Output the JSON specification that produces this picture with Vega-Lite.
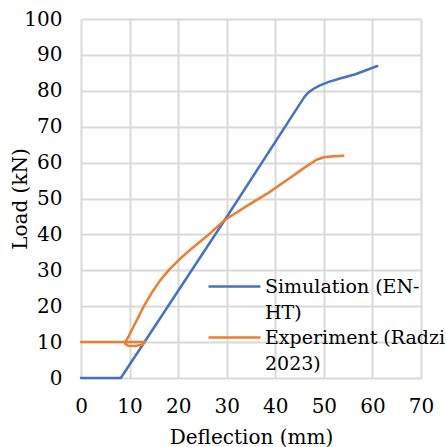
{
  "$schema": "https://vega.github.io/schema/vega-lite/v6.json",
  "width": 340,
  "height": 359,
  "autosize": {"type": "none"},
  "padding": {"left": 81, "top": 19, "right": 25, "bottom": 69},
  "background": "white",
  "config": {
    "view": {"stroke": null},
    "font": "DejaVu Serif",
    "style": {"guide-label": {"lineHeight": 26}}
  },
  "datasets": {
    "curves": [
      {"series": "Simulation (EN-HT)", "step": 0, "deflection": 0, "load": 0},
      {"series": "Simulation (EN-HT)", "step": 1, "deflection": 8.2, "load": 0},
      {"series": "Simulation (EN-HT)", "step": 2, "deflection": 29.6, "load": 44},
      {"series": "Simulation (EN-HT)", "step": 3, "deflection": 46.0, "load": 78.3},
      {"series": "Simulation (EN-HT)", "step": 4, "deflection": 46.8, "load": 79.5},
      {"series": "Simulation (EN-HT)", "step": 5, "deflection": 47.8, "load": 80.5},
      {"series": "Simulation (EN-HT)", "step": 6, "deflection": 49.2, "load": 81.5},
      {"series": "Simulation (EN-HT)", "step": 7, "deflection": 51, "load": 82.5},
      {"series": "Simulation (EN-HT)", "step": 8, "deflection": 53.5, "load": 83.5},
      {"series": "Simulation (EN-HT)", "step": 9, "deflection": 56.5, "load": 84.6},
      {"series": "Simulation (EN-HT)", "step": 10, "deflection": 61, "load": 86.9},
      {"series": "Experiment (Radzi 2023)", "step": 0, "deflection": 0, "load": 10},
      {"series": "Experiment (Radzi 2023)", "step": 1, "deflection": 13.2, "load": 10},
      {"series": "Experiment (Radzi 2023)", "step": 2, "deflection": 12.6, "load": 9.3},
      {"series": "Experiment (Radzi 2023)", "step": 3, "deflection": 11.2, "load": 8.9},
      {"series": "Experiment (Radzi 2023)", "step": 4, "deflection": 9.7, "load": 9.0},
      {"series": "Experiment (Radzi 2023)", "step": 5, "deflection": 9.1, "load": 9.5},
      {"series": "Experiment (Radzi 2023)", "step": 6, "deflection": 9.3, "load": 10.4},
      {"series": "Experiment (Radzi 2023)", "step": 7, "deflection": 9.8, "load": 11.6},
      {"series": "Experiment (Radzi 2023)", "step": 8, "deflection": 10.6, "load": 13.8},
      {"series": "Experiment (Radzi 2023)", "step": 9, "deflection": 11.6, "load": 16.4},
      {"series": "Experiment (Radzi 2023)", "step": 10, "deflection": 12.9, "load": 19.9},
      {"series": "Experiment (Radzi 2023)", "step": 11, "deflection": 14.5, "load": 23.6},
      {"series": "Experiment (Radzi 2023)", "step": 12, "deflection": 16.3, "load": 27.2},
      {"series": "Experiment (Radzi 2023)", "step": 13, "deflection": 18.3, "load": 30.4},
      {"series": "Experiment (Radzi 2023)", "step": 14, "deflection": 20.4, "load": 33.2},
      {"series": "Experiment (Radzi 2023)", "step": 15, "deflection": 23, "load": 36.3},
      {"series": "Experiment (Radzi 2023)", "step": 16, "deflection": 26, "load": 39.6},
      {"series": "Experiment (Radzi 2023)", "step": 17, "deflection": 29.6, "load": 44},
      {"series": "Experiment (Radzi 2023)", "step": 18, "deflection": 34, "load": 47.8},
      {"series": "Experiment (Radzi 2023)", "step": 19, "deflection": 38.5, "load": 51.5},
      {"series": "Experiment (Radzi 2023)", "step": 20, "deflection": 43, "load": 55.7},
      {"series": "Experiment (Radzi 2023)", "step": 21, "deflection": 46, "load": 58.6},
      {"series": "Experiment (Radzi 2023)", "step": 22, "deflection": 48.5, "load": 60.8},
      {"series": "Experiment (Radzi 2023)", "step": 23, "deflection": 50, "load": 61.5},
      {"series": "Experiment (Radzi 2023)", "step": 24, "deflection": 52, "load": 61.8},
      {"series": "Experiment (Radzi 2023)", "step": 25, "deflection": 54, "load": 61.9}
    ]
  },
  "data": {"name": "curves"},
  "mark": {"type": "line", "strokeWidth": 2.5, "strokeJoin": "round", "strokeCap": "round"},
  "encoding": {
    "x": {
      "field": "deflection",
      "type": "quantitative",
      "scale": {"domain": [0, 70], "nice": false},
      "axis": {
        "values": [0, 10, 20, 30, 40, 50, 60, 70],
        "title": "Deflection  (mm)",
        "grid": true,
        "gridColor": "#d9d9d9",
        "gridWidth": 2,
        "domain": false,
        "ticks": false,
        "tickSize": 0,
        "labelFont": "DejaVu Serif",
        "labelFontSize": 20,
        "labelColor": "#000000",
        "labelPadding": 18,
        "labelBaseline": "top",
        "labelFlush": false,
        "titleFont": "DejaVu Serif",
        "titleFontSize": 20,
        "titleFontWeight": "normal",
        "titleColor": "#000000",
        "titleX": 170,
        "titleY": 65,
        "titleAlign": "center",
        "titleBaseline": "alphabetic"
      }
    },
    "y": {
      "field": "load",
      "type": "quantitative",
      "scale": {"domain": [0, 100], "nice": false},
      "axis": {
        "values": [0, 10, 20, 30, 40, 50, 60, 70, 80, 90, 100],
        "title": "Load (kN)",
        "grid": true,
        "gridColor": "#d9d9d9",
        "gridWidth": 2,
        "domain": false,
        "ticks": false,
        "tickSize": 0,
        "labelFont": "DejaVu Serif",
        "labelFontSize": 20,
        "labelColor": "#000000",
        "labelPadding": 19,
        "labelFlush": false,
        "titleFont": "DejaVu Serif",
        "titleFontSize": 20,
        "titleFontWeight": "normal",
        "titleColor": "#000000",
        "titleX": -61,
        "titleY": 179.5,
        "titleAngle": -90,
        "titleAlign": "center",
        "titleBaseline": "middle"
      }
    },
    "color": {
      "field": "series",
      "type": "nominal",
      "scale": {"domain": ["Simulation (EN-HT)", "Experiment (Radzi 2023)"], "range": ["#4472C4", "#ED7D31"]},
      "legend": {
        "title": null,
        "orient": "none",
        "legendX": 152,
        "legendY": 253,
        "padding": 0,
        "symbolType": "M-3,0L1,0",
        "symbolSize": 676,
        "symbolStrokeWidth": 2.5,
        "labelFont": "DejaVu Serif",
        "labelFontSize": 19,
        "labelColor": "#000000",
        "labelOffset": 3,
        "labelLimit": 600,
        "rowPadding": 0,
        "labelExpr": "datum.label == 'Simulation (EN-HT)' ? ['Simulation (EN-', 'HT)'] : ['Experiment (Radzi', '2023)']"
      }
    },
    "order": {"field": "step", "type": "quantitative"}
  }
}
